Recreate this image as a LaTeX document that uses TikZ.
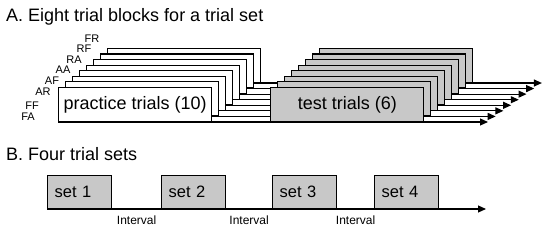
\documentclass[tikz,border=0pt]{standalone}
\usepackage{fontspec}
\setmainfont{Liberation Sans}
\usepackage{xcolor}
\usetikzlibrary{arrows.meta, positioning, calc}

\definecolor{boxgray}{RGB}{200,200,200}

\begin{document}
\begin{tikzpicture}[x=1pt, y=-1pt,
  pracbox/.style={draw, line width=1.2pt, fill=white, anchor=south west,
                  minimum width=153pt, minimum height=34pt, inner sep=0pt,
                  font=\fontsize{18}{20}\selectfont},
  testbox/.style={pracbox, fill=boxgray},
  arr/.style={-{Triangle[length=8pt, width=7pt]}, line width=1.1pt},
  blklbl/.style={inner sep=0pt, font=\fontsize{11}{12}\selectfont},
  setbox/.style={draw, line width=1.2pt, fill=boxgray, anchor=south west,
                 minimum height=33pt, inner xsep=7pt, inner ysep=0pt,
                 text width=50pt, align=left, font=\fontsize{16.5}{18}\selectfont},
  ivl/.style={inner sep=0pt, font=\fontsize{12}{13}\selectfont},
  ttl/.style={anchor=base west, inner sep=0pt, font=\fontsize{18}{20}\selectfont},
]
  \useasboundingbox (0,0) rectangle (550,233);

  % A: eight blocks, drawn back to front
  \node[ttl] (ttlA) at (6,21.7) {A. Eight trial blocks for a trial set};

  \foreach \i in {7,...,0} {
    \node[pracbox] (prac\i) at ({58+7*\i}, {122-5.57*\i})
          {\ifnum\i=0 practice trials (10)\fi};
    \node[testbox, right=58pt of prac\i] (test\i)
          {\ifnum\i=0 test trials (6)\fi};
    \coordinate (end\i) at ({488+7.7*\i}, {122-5.57*\i});
    \draw[arr] (prac\i.south west) -- (end\i);
  }

  \foreach \t/\x/\y in {FA/28/117, FF/32/106, AR/43/92, AF/52/81,
                        AA/63/70, RA/74/60, RF/84/49, FR/92/39}
    \node[blklbl] (lbl\t) at (\x,\y) {\t};

  % B: four sets on a time line
  \node[ttl] (ttlB) at (6,160) {B. Four trial sets};

  \node[setbox] (set1) at (47,209)  {set 1};
  \node[setbox] (set2) at (161,209) {set 2};
  \node[setbox] (set3) at (272,209) {set 3};
  \node[setbox] (set4) at (374,209) {set 4};

  \coordinate (axend) at (486,209);
  \draw[arr] (set1.south west) -- (axend);

  \foreach \a/\b [count=\k] in {set1/set2, set2/set3, set3/set4}
    \node[ivl, below=7pt] (ivl\k) at ($(\a.south east)!0.5!(\b.south west)$) {Interval};
\end{tikzpicture}
\end{document}
